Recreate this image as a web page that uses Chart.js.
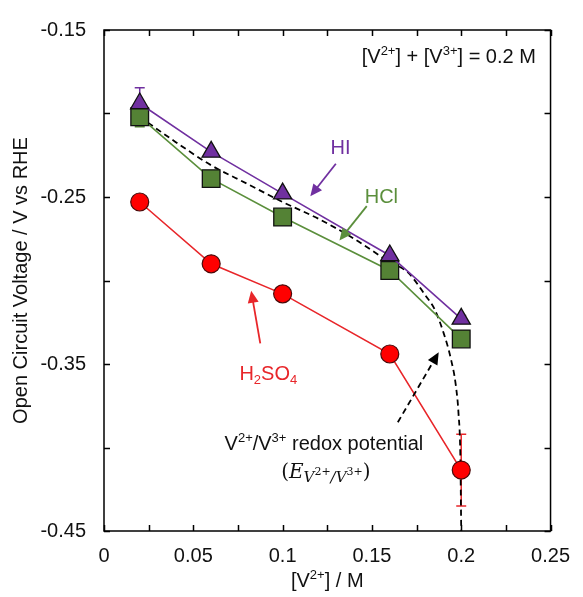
<!DOCTYPE html>
<html lang="en">
<head>
<meta charset="UTF-8">
<title>Open Circuit Voltage</title>
<script src="https://cdn.jsdelivr.net/npm/chart.js"></script>
<style>
    html, body { margin: 0; padding: 0; background: #fff; }
    #grafico { width: 583px; height: 597px; }
</style>
</head>
<body>
<div id="grafico"><canvas id="myChartCanvas"></canvas></div>
<script>
    // [V2+] in M
    var conc = [0.02, 0.06, 0.1, 0.16, 0.2];
    var ocvHI = [-0.194, -0.223, -0.248, -0.285, -0.323];
    var ocvHCl = [-0.202, -0.239, -0.262, -0.294, -0.335];
    var ocvH2SO4 = [-0.253, -0.290, -0.308, -0.344, -0.4135];
    // +/- error, 0 = no bar
    var errHI = [0.0094, 0, 0, 0, 0.002];
    var errHCl = [0.006, 0, 0, 0, 0];
    var errH2SO4 = [0, 0, 0, 0, 0.0215];
    // dashed V2+/V3+ redox potential curve
    var redoxX = [0.02, 0.04, 0.06, 0.08, 0.1, 0.12, 0.14, 0.16, 0.17, 0.18, 0.185, 0.19, 0.194, 0.197, 0.1985, 0.1995, 0.2];
    var redoxY = [-0.202, -0.217, -0.231, -0.242, -0.253, -0.263, -0.275, -0.289, -0.295, -0.309, -0.317, -0.331, -0.346, -0.363, -0.380, -0.405, -0.45];
    var xTicksLabelled = [0, 0.05, 0.1, 0.15, 0.2, 0.25];
    var yTicksLabelled = [-0.15, -0.25, -0.35, -0.45];

    var PURPLE = '#7030a0';
    var GREEN = '#548235';
    var GREEN_LINE = '#5b8f3c';
    var RED = '#e8262a';
    var FONT = '"Liberation Sans", Arial, sans-serif';

    function pontos(xs, ys) {
        var out = [];
        for (var i = 0; i < xs.length; i++) out.push({ x: xs[i], y: ys[i] });
        return out;
    }

    // rich text: parts = [{t, size, dy, font, family}]
    function textoRico(ctx, parts, x, y, align, color, base) {
        var total = 0;
        parts.forEach(function (p) {
            ctx.font = (p.font || '') + ' ' + (p.size || base) + 'px ' + (p.family || FONT);
            p.w = ctx.measureText(p.t).width;
            total += p.w;
        });
        var cx = align === 'center' ? x - total / 2 : (align === 'right' ? x - total : x);
        ctx.fillStyle = color;
        ctx.textBaseline = 'alphabetic';
        ctx.textAlign = 'left';
        parts.forEach(function (p) {
            ctx.font = (p.font || '') + ' ' + (p.size || base) + 'px ' + (p.family || FONT);
            ctx.fillText(p.t, cx, y + (p.dy || 0));
            cx += p.w;
        });
    }

    function seta(ctx, x1, y1, x2, y2, color, dash) {
        var ang = Math.atan2(y2 - y1, x2 - x1);
        var hl = 12, hw = 5.5;
        ctx.save();
        ctx.strokeStyle = color;
        ctx.fillStyle = color;
        ctx.lineWidth = 1.8;
        if (dash) ctx.setLineDash(dash);
        ctx.beginPath();
        ctx.moveTo(x1, y1);
        ctx.lineTo(x2 - Math.cos(ang) * hl * 0.8, y2 - Math.sin(ang) * hl * 0.8);
        ctx.stroke();
        ctx.setLineDash([]);
        ctx.beginPath();
        ctx.moveTo(x2, y2);
        ctx.lineTo(x2 - Math.cos(ang) * hl - Math.sin(ang) * hw, y2 - Math.sin(ang) * hl + Math.cos(ang) * hw);
        ctx.lineTo(x2 - Math.cos(ang) * hl + Math.sin(ang) * hw, y2 - Math.sin(ang) * hl - Math.cos(ang) * hw);
        ctx.closePath();
        ctx.fill();
        ctx.restore();
    }

    var barrasErro = {
        id: 'barrasErro',
        beforeDatasetsDraw: function (chart) {
            var ctx = chart.ctx, sx = chart.scales.x, sy = chart.scales.y;
            var series = [[ocvHI, errHI, PURPLE], [ocvHCl, errHCl, GREEN], [ocvH2SO4, errH2SO4, RED]];
            ctx.save();
            ctx.lineWidth = 1.5;
            series.forEach(function (s) {
                for (var i = 0; i < conc.length; i++) {
                    if (!s[1][i]) continue;
                    var px = sx.getPixelForValue(conc[i]);
                    var top = sy.getPixelForValue(s[0][i] + s[1][i]);
                    var bot = sy.getPixelForValue(s[0][i] - s[1][i]);
                    ctx.strokeStyle = s[2];
                    ctx.beginPath();
                    ctx.moveTo(px, top); ctx.lineTo(px, bot);
                    ctx.moveTo(px - 5, top); ctx.lineTo(px + 5, top);
                    ctx.moveTo(px - 5, bot); ctx.lineTo(px + 5, bot);
                    ctx.stroke();
                }
            });
            ctx.restore();
        }
    };

    var moldura = {
        id: 'moldura',
        afterDraw: function (chart) {
            var ctx = chart.ctx, a = chart.chartArea, sx = chart.scales.x, sy = chart.scales.y;
            ctx.save();
            ctx.strokeStyle = '#000';
            ctx.lineWidth = 1.5;
            ctx.strokeRect(a.left, a.top, a.right - a.left, a.bottom - a.top);
            ctx.beginPath();
            sx.ticks.forEach(function (t) {
                var px = Math.round(sx.getPixelForValue(t.value)) + 0.5;
                ctx.moveTo(px, a.bottom); ctx.lineTo(px, a.bottom - 6);
                ctx.moveTo(px, a.top); ctx.lineTo(px, a.top + 6);
            });
            sy.ticks.forEach(function (t) {
                var py = Math.round(sy.getPixelForValue(t.value)) + 0.5;
                ctx.moveTo(a.left, py); ctx.lineTo(a.left + 6, py);
                ctx.moveTo(a.right, py); ctx.lineTo(a.right - 6, py);
            });
            ctx.stroke();
            ctx.restore();

            function X(v) { return sx.getPixelForValue(v); }
            function Y(v) { return sy.getPixelForValue(v); }

            // x axis title
            textoRico(ctx, [{ t: '[V' }, { t: '2+', size: 13, dy: -8 }, { t: '] / M' }],
                (a.left + a.right) / 2, a.bottom + 56, 'center', '#111', 20);

            // total concentration note
            textoRico(ctx, [{ t: '[V' }, { t: '2+', size: 13, dy: -8 }, { t: '] + [V' }, { t: '3+', size: 13, dy: -8 }, { t: '] = 0.2 M' }],
                X(0.2418), Y(-0.1653) + 7, 'right', '#111', 20);

            // series labels
            textoRico(ctx, [{ t: 'HI' }], X(0.1324), Y(-0.2203) + 7, 'center', PURPLE, 20);
            textoRico(ctx, [{ t: 'HCl' }], X(0.1553), Y(-0.2496) + 7, 'center', GREEN_LINE, 20);
            textoRico(ctx, [{ t: 'H' }, { t: '2', size: 13, dy: 4 }, { t: 'SO' }, { t: '4', size: 13, dy: 4 }],
                X(0.092), Y(-0.3553) + 7, 'center', RED, 20);

            seta(ctx, X(0.1298), Y(-0.2301), X(0.1155), Y(-0.2496), PURPLE);
            seta(ctx, X(0.1471), Y(-0.2555), X(0.1318), Y(-0.2760), GREEN_LINE);
            seta(ctx, X(0.0875), Y(-0.3376), X(0.0824), Y(-0.3062), RED);
            seta(ctx, X(0.1645), Y(-0.3849), X(0.1874), Y(-0.3430), '#000', [6, 4]);

            // redox potential label
            textoRico(ctx, [{ t: 'V' }, { t: '2+', size: 13, dy: -8 }, { t: '/V' }, { t: '3+', size: 13, dy: -8 }, { t: ' redox potential' }],
                X(0.1231), Y(-0.3976) + 7, 'center', '#111', 20);
            var serif = '"DejaVu Serif", "Liberation Serif", serif';
            textoRico(ctx, [
                { t: '(', family: serif },
                { t: 'E', font: 'italic', family: serif },
                { t: 'V', font: 'italic', size: 15, dy: 4, family: serif },
                { t: '2+', size: 11, dy: -3, family: serif },
                { t: '/', font: 'italic', size: 15, dy: 4, family: serif },
                { t: 'V', font: 'italic', size: 15, dy: 4, family: serif },
                { t: '3+', size: 11, dy: -3, family: serif },
                { t: ')', family: serif }
            ], X(0.1242), Y(-0.4141) + 7, 'center', '#111', 20);
        }
    };

    function rotuloX(v) {
        for (var i = 0; i < xTicksLabelled.length; i++) {
            if (Math.abs(v - xTicksLabelled[i]) < 1e-6) return String(xTicksLabelled[i]);
        }
        return '';
    }
    function rotuloY(v) {
        for (var i = 0; i < yTicksLabelled.length; i++) {
            if (Math.abs(v - yTicksLabelled[i]) < 1e-6) return String(yTicksLabelled[i]);
        }
        return '';
    }

    var config = {
        type: 'scatter',
        data: {
            datasets: [{
                label: 'HI',
                data: pontos(conc, ocvHI),
                showLine: true,
                borderColor: PURPLE,
                borderWidth: 1.6,
                pointStyle: 'triangle',
                pointRadius: 10.5,
                pointBackgroundColor: PURPLE,
                pointBorderColor: '#111',
                pointBorderWidth: 1.3
            }, {
                label: 'HCl',
                data: pontos(conc, ocvHCl),
                showLine: true,
                borderColor: GREEN_LINE,
                borderWidth: 1.6,
                pointStyle: 'rect',
                pointRadius: 12.5,
                pointBackgroundColor: GREEN,
                pointBorderColor: '#111',
                pointBorderWidth: 1.3
            }, {
                label: 'H2SO4',
                data: pontos(conc, ocvH2SO4),
                showLine: true,
                borderColor: RED,
                borderWidth: 1.6,
                pointStyle: 'circle',
                pointRadius: 9,
                pointBackgroundColor: '#ff0000',
                pointBorderColor: '#4a0a0a',
                pointBorderWidth: 1.2
            }, {
                label: 'redox',
                data: pontos(redoxX, redoxY),
                showLine: true,
                borderColor: '#000',
                borderWidth: 1.8,
                borderDash: [6, 4],
                cubicInterpolationMode: 'monotone',
                pointRadius: 0
            }]
        },
        options: {
            responsive: true,
            maintainAspectRatio: false,
            animation: false,
            devicePixelRatio: 1,
            layout: { padding: { top: 21, right: 24, left: 0, bottom: 0 } },
            plugins: { legend: { display: false }, tooltip: { enabled: false } },
            scales: {
                x: {
                    type: 'linear',
                    min: 0, max: 0.25,
                    grid: { display: false, drawTicks: false },
                    border: { display: false },
                    ticks: {
                        stepSize: 0.025, autoSkip: false, maxRotation: 0,
                        padding: 13, color: '#111',
                        font: { size: 20, family: FONT },
                        callback: rotuloX
                    },
                    afterFit: function (s) { s.height = 66; }
                },
                y: {
                    min: -0.45, max: -0.15,
                    grid: { display: false, drawTicks: false },
                    border: { display: false },
                    ticks: {
                        stepSize: 0.05, autoSkip: false,
                        padding: 18, color: '#111',
                        font: { size: 20, family: FONT },
                        callback: rotuloY
                    },
                    title: {
                        display: true,
                        text: 'Open Circuit Voltage / V vs RHE',
                        color: '#111',
                        font: { size: 20, family: FONT },
                        padding: { top: 9, bottom: 0 }
                    },
                    afterFit: function (s) { s.width = 104; }
                }
            }
        },
        plugins: [barrasErro, moldura]
    };

    var ctx = document.getElementById('myChartCanvas').getContext('2d');
    var myChart = new Chart(ctx, config);

    // pin the plot box to where it sits in the figure
    var alvo = { left: 104, top: 21, right: 559, bottom: 531 };
    var area = myChart.chartArea;
    var pad = myChart.options.layout.padding;
    pad.top += alvo.top - area.top;
    pad.right += area.right - alvo.right;
    pad.left += alvo.left - area.left;
    pad.bottom += area.bottom - alvo.bottom;
    myChart.update();
</script>
</body>
</html>
